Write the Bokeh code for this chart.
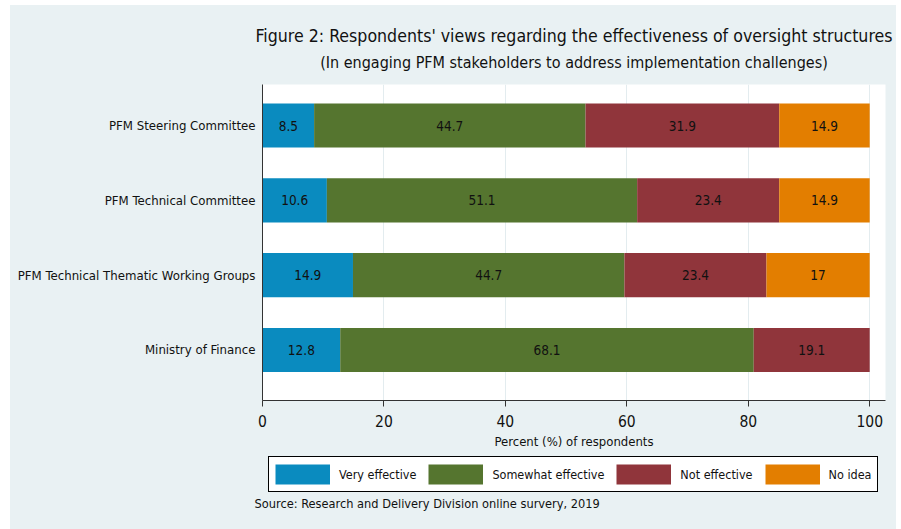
from bokeh.plotting import figure
from bokeh.layouts import column
from bokeh.models import (Range1d, Legend, LegendItem, ColumnDataSource,
                          FixedTicker, Title, Label)
from bokeh.embed import file_html
from bokeh.resources import INLINE
from bokeh.core.properties import value

# ---------------- data ----------------
categories = ["PFM Steering Committee", "PFM Technical Committee",
              "PFM Technical Thematic Working Groups", "Ministry of Finance"]
very_effective = [8.5, 10.6, 14.9, 12.8]
somewhat_effective = [44.7, 51.1, 44.7, 68.1]
not_effective = [31.9, 23.4, 23.4, 19.1]
no_idea = [14.9, 14.9, 17.0, 0.0]
series_names = ["Very effective", "Somewhat effective", "Not effective", "No idea"]
x_ticks = [0, 20, 40, 60, 80, 100]

title_text = "Figure 2: Respondents' views regarding the effectiveness of oversight structures"
subtitle_text = "(In engaging PFM stakeholders to address implementation challenges)"
x_label = "Percent (%) of respondents"
source_text = "Source: Research and Delivery Division online survery, 2019"

# ---------------- style ----------------
colors = ["#0a8bbf", "#55752f", "#90353b", "#e37e00"]
BG = "#e9f1f3"
FONT = "DejaVu Sans Condensed"
TXT = "#111111"

series = [very_effective, somewhat_effective, not_effective, no_idea]
n = len(categories)
ypos = [n - i for i in range(n)]

# ---------------- main chart ----------------
p = figure(width=886, height=450, output_backend="svg", toolbar_location=None,
           x_range=Range1d(0, 102.6), y_range=Range1d(0.325, 4.548),
           min_border_left=252, min_border_right=11, min_border_top=79,
           min_border_bottom=55)
p.background_fill_color = "white"
p.border_fill_color = BG
p.outline_line_color = None

cum = [0.0] * n
for name, vals, col in zip(series_names, series, colors):
    left = cum[:]
    right = [l + v for l, v in zip(left, vals)]
    mid = [(l + r) / 2 for l, r in zip(left, right)]
    txt = [("{:g}".format(v) if v > 0 else "") for v in vals]
    src = ColumnDataSource(dict(y=ypos, left=left, right=right, mid=mid, txt=txt))
    p.hbar(y="y", left="left", right="right", height=0.59, source=src,
           fill_color=col, line_color=None)
    p.text(x="mid", y="y", text="txt", source=src, text_align="center",
           text_baseline="middle", text_font=value(FONT), text_font_size="13.5px",
           text_color=TXT)
    cum = right

p.xaxis.ticker = FixedTicker(ticks=x_ticks)
p.xaxis.minor_tick_line_color = None
p.xaxis.major_tick_in = 0
p.xaxis.major_tick_out = 6
p.xaxis.axis_line_color = "#333333"
p.xaxis.major_tick_line_color = "#333333"
p.xaxis.major_label_text_font = FONT
p.xaxis.major_label_text_font_size = "15.5px"
p.xaxis.major_label_text_color = TXT
p.xaxis.major_label_standoff = 8
p.xaxis.axis_label = x_label
p.xaxis.axis_label_text_font = FONT
p.xaxis.axis_label_text_font_size = "13px"
p.xaxis.axis_label_text_font_style = "normal"
p.xaxis.axis_label_text_color = TXT
p.xaxis.axis_label_standoff = 4

p.yaxis.ticker = FixedTicker(ticks=ypos)
p.yaxis.major_label_overrides = {y: c for y, c in zip(ypos, categories)}
p.yaxis.minor_tick_line_color = None
p.yaxis.major_tick_in = 0
p.yaxis.major_tick_out = 0
p.yaxis.axis_line_color = "#333333"
p.yaxis.major_label_text_font = FONT
p.yaxis.major_label_text_font_size = "13.1px"
p.yaxis.major_label_text_color = TXT
p.yaxis.major_label_standoff = 7

p.xgrid.ticker = FixedTicker(ticks=x_ticks)
p.xgrid.grid_line_color = "#e3ecef"
p.ygrid.grid_line_color = None

p.title.visible = False
p.add_layout(Title(text=subtitle_text, align="center", text_font=FONT,
                   text_font_size="16px", text_font_style="normal",
                   text_color=TXT, standoff=25), "above")
p.add_layout(Title(text=title_text, align="center", text_font=FONT,
                   text_font_size="17.6px", text_font_style="normal",
                   text_color=TXT, standoff=-15), "above")

# ---------------- legend + source strip ----------------
q = figure(width=886, height=74, output_backend="svg", toolbar_location=None,
           x_range=Range1d(0, 1), y_range=Range1d(0, 1),
           min_border=0, min_border_left=0, min_border_right=0,
           min_border_top=0, min_border_bottom=0)
q.frame_align = False
q.axis.visible = False
q.grid.visible = False
q.outline_line_color = None
q.background_fill_color = BG
q.border_fill_color = BG

items = []
for name, col in zip(series_names, colors):
    # legend-only renderer (kept outside the visible range); a thick butt line
    # gives a full-size colour swatch in the legend
    r = q.line(x=[0, 1], y=[-9, -9], line_width=20, line_color=col, line_cap="butt")
    items.append(LegendItem(label=name, renderers=[r]))

legend = Legend(items=items, orientation="horizontal", location=(258, 37),
                border_line_color="black", border_line_width=1, border_line_alpha=1,
                background_fill_color="white", background_fill_alpha=1,
                padding=6, spacing=12, glyph_width=55, glyph_height=22,
                label_standoff=9, label_text_font=FONT, label_text_font_size="12.5px",
                label_text_color=TXT, margin=0)
q.add_layout(legend)

q.add_layout(Label(x=244, y=26, x_units="screen", y_units="screen", text=source_text,
                   text_align="left", text_baseline="middle", text_font=FONT,
                   text_font_size="12.7px", text_color=TXT))

layout = column(p, q, spacing=0)
layout.margin = (5, 5, 0, 10)
layout.styles = {"background-color": BG}

open("out.html", "w").write(file_html(layout, INLINE))
